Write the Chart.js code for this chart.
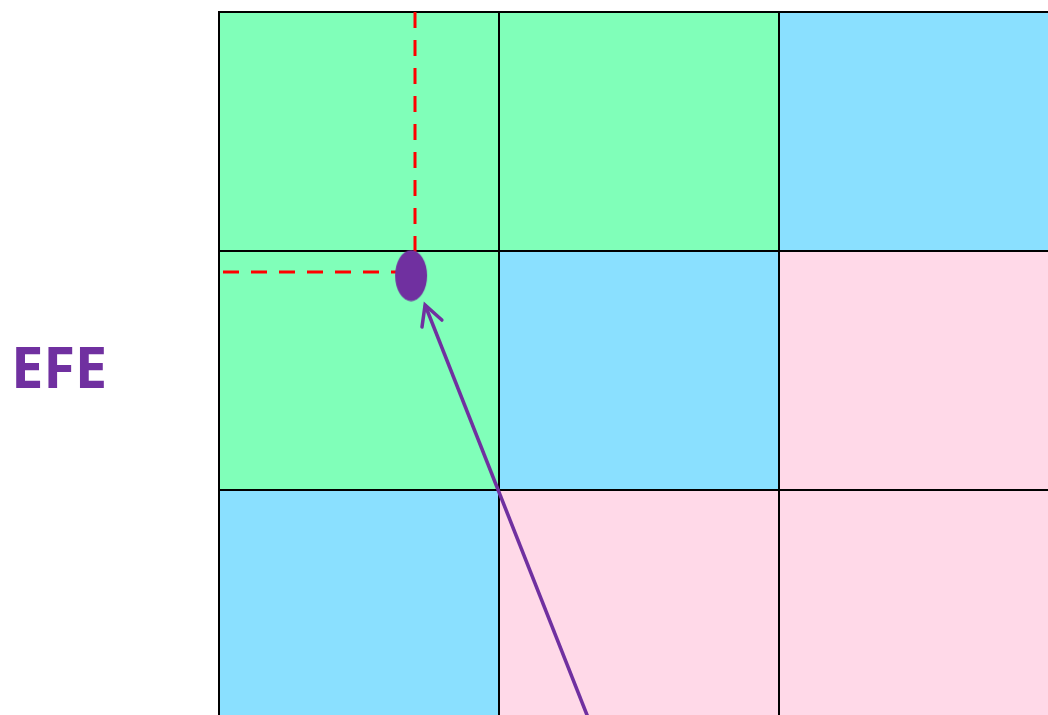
<!DOCTYPE html>
<html>
<head>
<meta charset="utf-8">
<script src="https://cdn.jsdelivr.net/npm/chart.js@4/dist/chart.umd.min.js"></script>
<style>
  html, body { margin: 0; padding: 0; background: #fff; overflow: hidden; width: 1048px; height: 715px; }
  #wrap { position: absolute; left: 0; top: 0; width: 1080px; height: 740px; }
  #efe { position: absolute; left: 11px; top: 337px; font-family: "Open Sans", sans-serif; font-weight: 700; font-size: 58px; line-height: 1; color: #7030A0; letter-spacing: -0.3px; }
</style>
</head>
<body>
<div id="wrap"><canvas id="c" width="1080" height="740"></canvas></div>
<div id="efe">EFE</div>
<script>
// IE-matrix style grid: x = IFE score (4 -> 1, left to right), y = EFE score (4 -> 1, top to bottom)
const columnCenters = [3.5, 2.5, 1.5];
const rowRanges = [[3, 4], [2, 3], [1, 2]];
const GREEN = 'rgb(128,255,185)', BLUE = 'rgb(138,224,255)', PINK = 'rgb(255,217,232)';
const cellColors = [
  [GREEN, GREEN, BLUE],
  [GREEN, BLUE, PINK],
  [BLUE, PINK, PINK]
];
// position of the firm
const firmPoint = { x: 3.314, y: 2.897 };
// guide lines
const guideVertical = [{ x: 3.300, y: 4 }, { x: 3.300, y: 2.95 }];
const guideHorizontal = [{ x: 4, y: 2.912 }, { x: 3.33, y: 2.912 }];
// arrow (shaft and head)
const arrowShaft = [{ x: 2.666, y: 1.0 }, { x: 3.264, y: 2.774 }];
const arrowHead = [{ x: 3.275, y: 2.682 }, { x: 3.264, y: 2.774 }, { x: 3.204, y: 2.711 }];

const PURPLE = '#7030A0';

// ellipse marker image
const ell = document.createElement('canvas');
ell.width = 34; ell.height = 52;
(function () {
  const g = ell.getContext('2d');
  g.fillStyle = PURPLE;
  g.beginPath();
  g.ellipse(17, 26, 16, 25.5, 0, 0, Math.PI * 2);
  g.fill();
})();

const datasets = [];
rowRanges.forEach((r, ri) => {
  datasets.push({
    type: 'bar',
    data: columnCenters.map(x => ({ x: x, y: r })),
    backgroundColor: cellColors[ri],
    borderColor: '#000',
    borderWidth: 1,
    borderSkipped: false,
    inflateAmount: 0,
    grouped: false,
    barPercentage: 1,
    categoryPercentage: 1,
    order: 10
  });
});
datasets.push({
  type: 'line', data: guideVertical, borderColor: '#ff0000', borderWidth: 3,
  borderDash: [16, 12], pointRadius: 0, order: 4, clip: false
});
datasets.push({
  type: 'line', data: guideHorizontal, borderColor: '#ff0000', borderWidth: 3,
  borderDash: [16, 12], borderDashOffset: 24, pointRadius: 0, order: 4, clip: false
});
datasets.push({
  type: 'line', data: arrowShaft, borderColor: PURPLE, borderWidth: 3.5,
  pointRadius: 0, order: 3
});
datasets.push({
  type: 'line', data: arrowHead, borderColor: PURPLE, borderWidth: 3.5,
  pointRadius: 0, order: 3, borderCapStyle: 'round', borderJoinStyle: 'miter'
});
datasets.push({
  type: 'line', data: [firmPoint], showLine: false, pointStyle: ell,
  pointRadius: 20, order: 1, clip: false
});

new Chart(document.getElementById('c'), {
  type: 'bar',
  data: { datasets: datasets },
  options: {
    responsive: false,
    animation: false,
    events: [],
    layout: { autoPadding: false, padding: { left: 219, top: 12, right: 21, bottom: 11 } },
    plugins: { legend: { display: false }, tooltip: { enabled: false } },
    scales: {
      x: {
        type: 'linear', position: 'top', min: 1, max: 4, reverse: true, offset: false,
        grid: { display: false, offset: false },
        ticks: { display: false, stepSize: 1 },
        border: { display: true, color: '#000', width: 2 },
        afterFit: s => { s.height = 0; }
      },
      y: {
        type: 'linear', min: 1, max: 4,
        grid: { display: false },
        ticks: { display: false, stepSize: 1 },
        border: { display: true, color: '#000', width: 2 },
        afterFit: s => { s.width = 0; }
      }
    }
  }
});
</script>
</body>
</html>
